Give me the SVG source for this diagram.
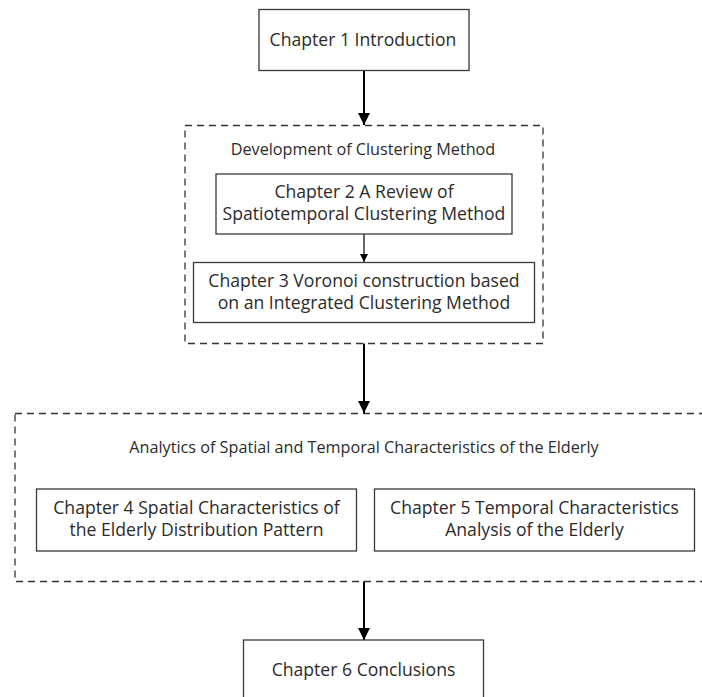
<svg xmlns="http://www.w3.org/2000/svg" width="702" height="697" viewBox="0 0 702 697">
<style>
.box{fill:#fff;stroke:#3a3a3a;stroke-width:1.3}
.dash{fill:none;stroke:#333;stroke-width:1.3;stroke-dasharray:7 5}
.t{font-family:"Open Sans","Noto Sans",sans-serif;font-size:17.6px;fill:#2b2b2b;text-anchor:middle}
.ts{font-family:"Open Sans","Noto Sans",sans-serif;font-size:16.2px;fill:#2b2b2b;text-anchor:middle}
.c{stroke:#000;stroke-width:2;fill:none}
.c1{stroke:#000;stroke-width:1.2;fill:none}
</style>
<defs>
<marker id="ah" markerUnits="userSpaceOnUse" markerWidth="12" markerHeight="12" refX="10" refY="5" orient="auto" viewBox="0 0 10 10"><path d="M0,0 L10,5 L0,10 Z" fill="#000"/></marker>
<marker id="ahs" markerUnits="userSpaceOnUse" markerWidth="9" markerHeight="8" refX="10" refY="5" orient="auto" viewBox="0 0 10 10"><path d="M0,0 L10,5 L0,10 Z" fill="#000"/></marker>
</defs>
<g id="group-clustering">
<rect class="dash" x="185" y="125.5" width="358" height="218"/>
<text class="ts" x="363" y="155">Development of Clustering Method</text>
</g>
<g id="group-analytics">
<rect class="dash" x="15" y="413.5" width="700" height="168"/>
<text class="ts" x="364" y="453">Analytics of Spatial and Temporal Characteristics of the Elderly</text>
</g>
<g id="connectors">
<line class="c" x1="364" y1="71" x2="364" y2="125" marker-end="url(#ah)"/>
<line class="c1" x1="364" y1="234" x2="364" y2="262" marker-end="url(#ahs)"/>
<line class="c" x1="364" y1="343.5" x2="364" y2="413" marker-end="url(#ah)"/>
<line class="c" x1="364" y1="581.5" x2="364" y2="640" marker-end="url(#ah)"/>
</g>
<g id="ch1">
<rect class="box" x="259" y="9.5" width="210" height="61"/>
<text class="t" x="363" y="46">Chapter 1 Introduction</text>
</g>
<g id="ch2">
<rect class="box" x="216" y="174" width="296" height="60"/>
<text class="t" x="364" y="198">Chapter 2 A Review of</text>
<text class="t" x="364" y="220">Spatiotemporal Clustering Method</text>
</g>
<g id="ch3">
<rect class="box" x="193.5" y="262.5" width="341" height="60"/>
<text class="t" x="364" y="287">Chapter 3 Voronoi construction based</text>
<text class="t" x="364" y="309">on an Integrated Clustering Method</text>
</g>
<g id="ch4">
<rect class="box" x="36.5" y="489" width="320" height="62"/>
<text class="t" x="196.5" y="514">Chapter 4 Spatial Characteristics of</text>
<text class="t" x="196.5" y="536">the Elderly Distribution Pattern</text>
</g>
<g id="ch5">
<rect class="box" x="374.5" y="489" width="320" height="62"/>
<text class="t" x="534.5" y="514">Chapter 5 Temporal Characteristics</text>
<text class="t" x="534.5" y="536">Analysis of the Elderly</text>
</g>
<g id="ch6">
<rect class="box" x="243.5" y="640" width="240" height="80"/>
<text class="t" x="363.5" y="676">Chapter 6 Conclusions</text>
</g>
</svg>
